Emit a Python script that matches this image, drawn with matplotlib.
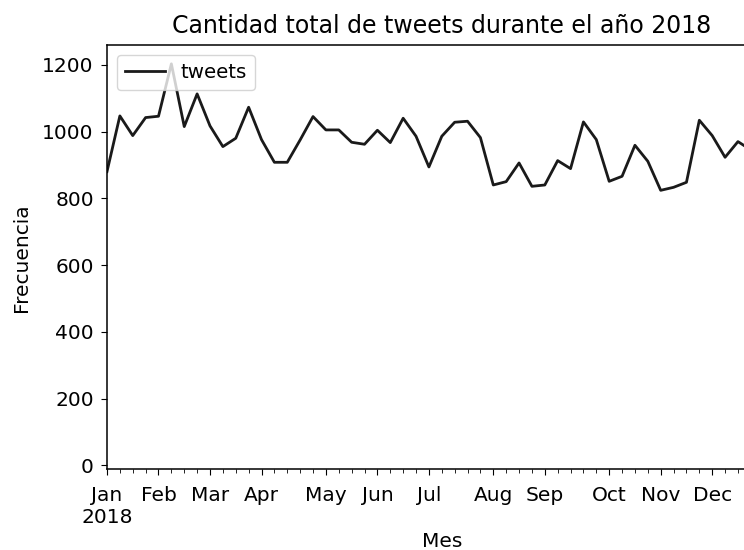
import matplotlib
matplotlib.use("Agg")
import matplotlib.pyplot as plt
import pandas as pd

# Weekly tweet counts for 2018 (weeks ending on Sunday)
week_start = "2018-01-07"
weekly_tweets = [
    880, 1047, 988, 1042, 1046, 1203, 1015, 1113, 1017, 955,
    980, 1073, 976, 908, 908, 975, 1045, 1005, 1005, 968,
    962, 1004, 967, 1040, 986, 894, 986, 1028, 1031, 982,
    840, 850, 906, 836, 840, 913, 889, 1029, 976, 851,
    866, 959, 911, 824, 833, 848, 1034, 988, 923, 970,
    945, 960, 930,
]

series = pd.Series(
    weekly_tweets,
    index=pd.date_range(week_start, periods=len(weekly_tweets), freq="W"),
    name="tweets",
)

plt.rcParams.update({
    "font.size": 14.5,
    "xtick.major.size": 4.5,
    "ytick.major.size": 4.5,
    "xtick.minor.size": 2.6,
    "xtick.major.pad": 8,
    "xtick.minor.pad": 8,
    "ytick.major.pad": 5,
    "axes.linewidth": 1.1,
})

fig = plt.figure(figsize=(7.44, 5.5), dpi=100)
ax = fig.add_axes([0.1438, 0.1473, 0.9, 0.77])

series.plot(ax=ax, color="#1a1a1a", linewidth=2.0)

ax.set_ylim(-11, 1258)
ax.set_yticks([0, 200, 400, 600, 800, 1000, 1200])
ax.set_title("Cantidad total de tweets durante el año 2018", fontsize=17, pad=9)
ax.set_xlabel("Mes", fontsize=14.5, labelpad=3)
ax.set_ylabel("Frecuencia", fontsize=14.5, labelpad=8)
ax.legend(loc="upper left", fontsize=14.3, handlelength=2.0)

fig.savefig("out.png", dpi=100)
